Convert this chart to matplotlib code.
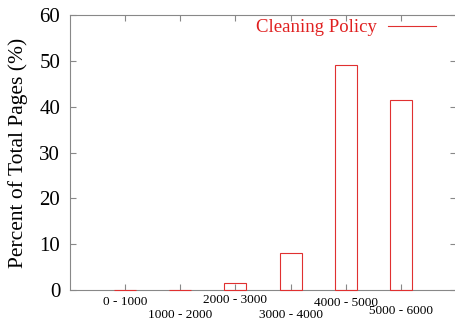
import matplotlib
matplotlib.use("Agg")
import matplotlib.pyplot as plt

plt.rcParams['font.family'] = ['Liberation Serif', 'DejaVu Serif']

labels = ["0 - 1000", "1000 - 2000", "2000 - 3000", "3000 - 4000", "4000 - 5000", "5000 - 6000"]
values = [0, 0, 1.5, 8, 49, 41.5]
label_pad = [4, 14, 3, 14, 5, 11]   # staggered label rows

fig = plt.figure(figsize=(4.56, 3.24), dpi=100)
ax = fig.add_axes([70/456, 34/324, 386/456, 275/324])

pos = list(range(1, len(values) + 1))
ax.bar(pos, values, width=0.4, fill=False, edgecolor='#e03030', linewidth=0.8,
       zorder=3, clip_on=False)

ax.set_xlim(0, 7)
ax.set_ylim(0, 60)
ax.set_yticks(range(0, 61, 10))
ax.set_xticks(pos)
ax.set_xticklabels(labels, fontsize=9.5)
ax.tick_params(axis='y', labelsize=15, direction='in', length=4, right=True, color='#888888', pad=7)
ax.tick_params(axis='x', direction='in', length=4, top=True, color='#888888')
for tk, p in zip(ax.xaxis.get_major_ticks(), label_pad):
    tk.set_pad(p)
for s in ax.spines.values():
    s.set_color('#888888')
    s.set_linewidth(0.8)
ax.spines['right'].set_visible(False)

ax.set_ylabel('Percent of Total Pages (%)', fontsize=15.5, labelpad=8)

leg = ax.legend(handles=[plt.Line2D([], [], color='#e03030', lw=0.8)], labels=['Cleaning Policy'],
                loc='upper right', frameon=False, fontsize=13.5, handlelength=2.6,
                handletextpad=0.55, markerfirst=False, bbox_to_anchor=(0.978, 1.025),
                borderaxespad=0.2)
for t in leg.get_texts():
    t.set_color('#e02020')

fig.savefig('out.png', dpi=100)
